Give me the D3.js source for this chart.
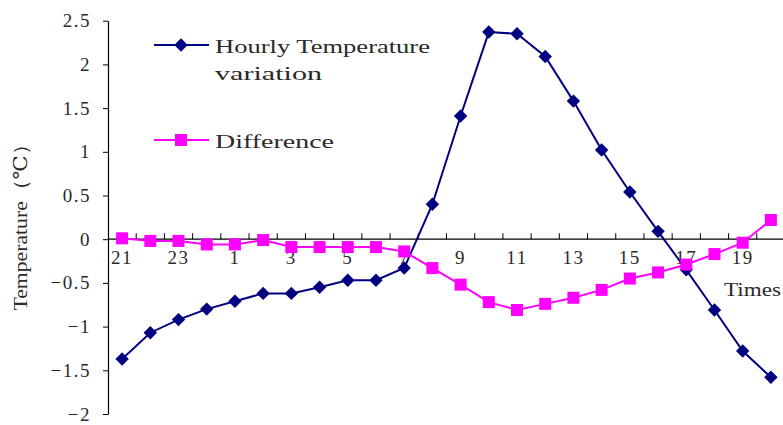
<!DOCTYPE html>
<html>
<head>
<meta charset="utf-8">
<script src="https://cdn.jsdelivr.net/npm/d3@7/dist/d3.min.js"></script>
<style>
  html, body { margin: 0; padding: 0; background: #fff; }
  svg { display: block; }
  text { font-family: "Liberation Serif", "DejaVu Serif", serif; fill: #2a2a2a; }
</style>
</head>
<body>
<svg id="chart" width="783" height="425"></svg>
<script>
// Hours of the day, starting in the evening
const hours = ["21","22","23","24","1","2","3","4","5","6","7","8","9","10","11","12","13","14","15","16","17","18","19","20"];
// Hours that carry a label on the axis
const labelledHours = ["21","23","1","3","5","7","9","11","13","15","17","19"];
const yTicks = [-2, -1.5, -1, -0.5, 0, 0.5, 1, 1.5, 2, 2.5];

const hourlyVariation = [-1.37, -1.07, -0.92, -0.80, -0.71, -0.62, -0.62, -0.55, -0.47, -0.47, -0.33, 0.40,
                         1.41, 2.37, 2.35, 2.09, 1.58, 1.02, 0.54, 0.09, -0.35, -0.81, -1.28, -1.58];
const difference = [0.01, -0.02, -0.02, -0.06, -0.06, -0.01, -0.09, -0.09, -0.09, -0.09, -0.14, -0.33,
                    -0.52, -0.72, -0.81, -0.74, -0.67, -0.58, -0.45, -0.38, -0.29, -0.17, -0.04, 0.22];

const navy = "#000080", magenta = "#ff00ff";

const svg = d3.select("#chart");

const x = d3.scaleBand().domain(hours).range([108, 785]);
const y = d3.scaleLinear().domain([-2, 2.5]).range([414, 20.7]);
const cx = h => x(h) + x.bandwidth() / 2;

// Vertical axis with outward ticks
const yAxis = svg.append("g")
  .attr("transform", "translate(108,0)")
  .call(d3.axisLeft(y).tickValues(yTicks).tickSize(5).tickSizeOuter(0).tickPadding(12)
    .tickFormat(d => d3.format("")(d).replace("-", "\u2212")));
yAxis.select(".domain").attr("stroke", "#000").attr("stroke-width", 1.2);
yAxis.selectAll(".tick line").attr("stroke", "#000");
yAxis.selectAll(".tick text")
  .attr("font-size", 19).attr("letter-spacing", 1.5).attr("fill", "#2a2a2a")
  .attr("font-family", "Liberation Serif, serif");

// Horizontal axis through zero, tick marks between hours pointing up
const xAxisG = svg.append("g").attr("transform", `translate(0,${y(0)})`);
xAxisG.append("line")
  .attr("x1", 108).attr("x2", 783).attr("stroke", "#000").attr("stroke-width", 1.2);
xAxisG.selectAll("line.tk")
  .data(hours.slice(1))
  .join("line")
  .attr("class", "tk")
  .attr("x1", d => x(d)).attr("x2", d => x(d))
  .attr("y1", 0).attr("y2", -6)
  .attr("stroke", "#000");
xAxisG.selectAll("text.lbl")
  .data(labelledHours)
  .join("text")
  .attr("class", "lbl")
  .attr("x", d => cx(d))
  .attr("y", 25)
  .attr("text-anchor", "middle")
  .attr("font-size", 19)
  .attr("letter-spacing", 1.5)
  .text(d => d);

svg.append("text")
  .attr("x", 781).attr("y", 296)
  .attr("text-anchor", "end")
  .attr("font-size", 19)
  .attr("textLength", 57).attr("lengthAdjust", "spacingAndGlyphs")
  .text("Times");

// Vertical axis title
svg.append("text")
  .attr("transform", "translate(27,222) rotate(-90)")
  .attr("text-anchor", "middle")
  .attr("font-size", 19)
  .attr("textLength", 177).attr("lengthAdjust", "spacingAndGlyphs")
  .text("Temperature（℃）");

const line = d3.line().x((d, i) => cx(hours[i])).y(d => y(d));
const diamondPath = d3.symbol().type(d3.symbolSquare).size(90);

// Hourly temperature variation series
svg.append("path").datum(hourlyVariation)
  .attr("d", line).attr("fill", "none").attr("stroke", navy).attr("stroke-width", 2);
svg.selectAll("path.dia").data(hourlyVariation).join("path")
  .attr("class", "dia")
  .attr("d", diamondPath)
  .attr("transform", (d, i) => `translate(${cx(hours[i])},${y(d)}) rotate(45)`)
  .attr("fill", navy);

// Difference series
svg.append("path").datum(difference)
  .attr("d", line).attr("fill", "none").attr("stroke", magenta).attr("stroke-width", 2);
svg.selectAll("rect.sq").data(difference).join("rect")
  .attr("class", "sq")
  .attr("x", (d, i) => cx(hours[i]) - 6)
  .attr("y", d => y(d) - 6)
  .attr("width", 12).attr("height", 12)
  .attr("fill", magenta);

// Legend
const legend = svg.append("g");
legend.append("line").attr("x1", 154).attr("x2", 209).attr("y1", 45).attr("y2", 45)
  .attr("stroke", navy).attr("stroke-width", 2);
legend.append("path")
  .attr("d", diamondPath)
  .attr("transform", "translate(181,45) rotate(45)")
  .attr("fill", navy);
legend.append("text").attr("x", 215).attr("y", 53).attr("font-size", 19)
  .attr("textLength", 215).attr("lengthAdjust", "spacingAndGlyphs")
  .text("Hourly Temperature");
legend.append("text").attr("x", 215).attr("y", 80).attr("font-size", 19)
  .attr("textLength", 107).attr("lengthAdjust", "spacingAndGlyphs")
  .text("variation");

legend.append("line").attr("x1", 154).attr("x2", 209).attr("y1", 140).attr("y2", 140)
  .attr("stroke", magenta).attr("stroke-width", 2);
legend.append("rect").attr("x", 175).attr("y", 134).attr("width", 12).attr("height", 12)
  .attr("fill", magenta);
legend.append("text").attr("x", 215).attr("y", 148).attr("font-size", 19)
  .attr("textLength", 119).attr("lengthAdjust", "spacingAndGlyphs")
  .text("Difference");
</script>
</body>
</html>
